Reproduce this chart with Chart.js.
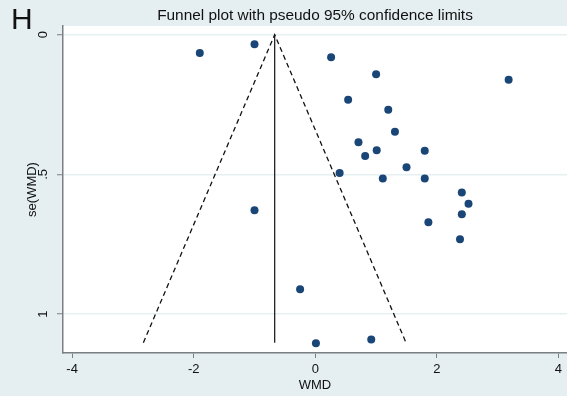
<!DOCTYPE html>
<html>
<head>
<meta charset="utf-8">
<script src="https://cdn.jsdelivr.net/npm/chart.js@4.4.1/dist/chart.umd.min.js"></script>
<style>
  html, body { margin: 0; padding: 0; background: #e5eef0; }
  #wrap { width: 567px; height: 396px; }
</style>
</head>
<body>
<div id="wrap"><canvas id="funnel" width="567" height="396"></canvas></div>
<script>
// ---- data ----
const studyWMD = [
  -1.90, -1.00, 0.26, 1.00, 3.18, 0.54, 1.20, 1.31, 0.71, 1.01, 0.82, 1.80, 1.50,
  0.40, 1.11, 1.80, 2.41, 2.52, 2.41, 1.86, 2.38, -1.00, -0.25, 0.01, 0.92,
];
const studySE = [
  0.066, 0.034, 0.081, 0.142, 0.161, 0.233, 0.269, 0.347, 0.385, 0.414, 0.434, 0.415, 0.474,
  0.495, 0.515, 0.515, 0.565, 0.605, 0.643, 0.671, 0.732, 0.628, 0.911, 1.104, 1.091,
];
const pooledWMD = -0.668;
const maxSE = 1.102;
const zCrit = 1.96;
const xTicks = [-4, -2, 0, 2, 4];
const yTicks = [0, 0.5, 1];

const FONT = "'Liberation Sans', Arial, Helvetica, sans-serif";
const AXIS_GREY = "#7a7f82";

const points = studyWMD.map((x, i) => ({ x: x, y: studySE[i] }));
const funnel = [
  { x: pooledWMD - zCrit * maxSE, y: maxSE },
  { x: pooledWMD, y: 0 },
  { x: pooledWMD + zCrit * maxSE, y: maxSE },
];
const pooledLine = [
  { x: pooledWMD, y: 0 },
  { x: pooledWMD, y: maxSE },
];

// background colours + "H" + title
const decorPlugin = {
  id: "decor",
  beforeDraw(chart) {
    const { ctx, chartArea } = chart;
    ctx.save();
    ctx.fillStyle = "#e5eef0";
    ctx.fillRect(0, 0, chart.width, chart.height);
    ctx.fillStyle = "#ffffff";
    ctx.fillRect(chartArea.left, chartArea.top,
      chartArea.right - chartArea.left, chartArea.bottom - chartArea.top);
    ctx.restore();
  },
  afterDraw(chart) {
    const { ctx, chartArea } = chart;
    ctx.save();
    ctx.fillStyle = "#111111";
    ctx.textBaseline = "alphabetic";
    ctx.textAlign = "left";
    ctx.font = "30px " + FONT;
    ctx.fillText("H", 11, 29);
    ctx.textAlign = "center";
    ctx.font = "15.4px " + FONT;
    ctx.fillText("Funnel plot with pseudo 95% confidence limits",
      (chartArea.left + chartArea.right) / 2, 20);
    ctx.restore();
  },
};

new Chart(document.getElementById("funnel"), {
  type: "scatter",
  data: {
    datasets: [
      {
        label: "Studies",
        data: points,
        backgroundColor: "#1a4677",
        borderColor: "#1a4677",
        pointRadius: 4,
        pointHoverRadius: 4,
        borderWidth: 0,
      },
      {
        label: "Pseudo 95% CI",
        data: funnel,
        showLine: true,
        borderColor: "#111111",
        borderWidth: 1.3,
        borderDash: [5, 3.5],
        pointRadius: 0,
        fill: false,
      },
      {
        label: "Pooled WMD",
        data: pooledLine,
        showLine: true,
        borderColor: "#111111",
        borderWidth: 1.2,
        pointRadius: 0,
        fill: false,
      },
    ],
  },
  options: {
    responsive: false,
    animation: false,
    events: [],
    layout: { autoPadding: false, padding: { top: 26, left: 0, right: 0, bottom: 0 } },
    plugins: {
      legend: { display: false },
      title: { display: false },
      tooltip: { enabled: false },
    },
    scales: {
      x: {
        type: "linear",
        min: -4.15,
        max: 4.14,
        afterBuildTicks: (scale) => {
          scale.ticks = xTicks.map((v) => ({ value: v }));
        },
        afterFit: (scale) => {
          scale.height = 43;
          scale.paddingLeft = 0;
          scale.paddingRight = 0;
        },
        grid: {
          color: "transparent",
          drawOnChartArea: false,
          tickColor: AXIS_GREY,
          tickLength: 5,
          tickWidth: 1,
        },
        border: { color: AXIS_GREY, width: 1.5 },
        ticks: {
          color: "#111111",
          padding: 4,
          font: { family: FONT, size: 13 },
          maxRotation: 0,
          callback: (v) => String(v),
        },
        title: {
          display: true,
          text: "WMD",
          color: "#111111",
          font: { family: FONT, size: 13 },
          padding: { top: 0, bottom: 3 },
        },
      },
      y: {
        type: "linear",
        reverse: true,
        min: -0.031,
        max: 1.139,
        afterBuildTicks: (scale) => {
          scale.ticks = yTicks.map((v) => ({ value: v }));
        },
        afterFit: (scale) => {
          scale.width = 63;
          scale.paddingTop = 0;
          scale.paddingBottom = 0;
        },
        grid: {
          color: "#e6eff1",
          lineWidth: 1.5,
          tickColor: AXIS_GREY,
          tickLength: 6,
          tickWidth: 1,
        },
        border: { color: AXIS_GREY, width: 1.5 },
        ticks: {
          color: "#111111",
          padding: 8,
          crossAlign: "center",
          minRotation: 90,
          maxRotation: 90,
          font: { family: FONT, size: 13 },
          callback: (v) => (v === 0.5 ? ".5" : String(v)),
        },
        title: {
          display: true,
          text: "se(WMD)",
          color: "#111111",
          font: { family: FONT, size: 13 },
          padding: { top: 25, bottom: 0 },
        },
      },
    },
  },
  plugins: [decorPlugin],
});
</script>
</body>
</html>
